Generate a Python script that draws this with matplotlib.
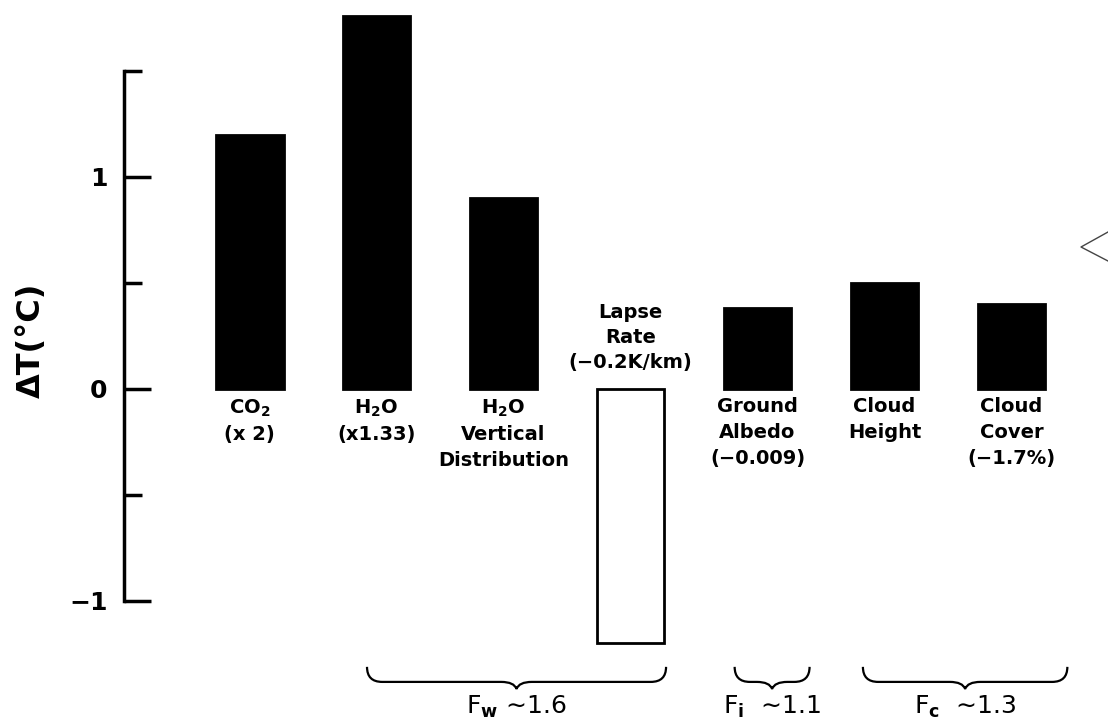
import numpy as np
import matplotlib
matplotlib.use("Agg")
import matplotlib.pyplot as plt
from matplotlib.path import Path
from matplotlib.patches import PathPatch
from matplotlib.lines import Line2D
from matplotlib.ticker import FixedLocator

# ---------------- data ----------------
categories = ["CO$_2$\n(x 2)", "H$_2$O\n(x1.33)", "H$_2$O\nVertical\nDistribution",
              "Lapse\nRate\n(\u22120.2K/km)", "Ground\nAlbedo\n(\u22120.009)",
              "Cloud\nHeight", "Cloud\nCover\n(\u22121.7%)"]
values = [1.2, 1.76, 0.9, -1.2, 0.38, 0.5, 0.4]
major_ticks = [-1, 0, 1]
minor_ticks = [-0.5, 0.5, 1.5]
group_labels = ["F$_{w}$ \u223c1.6", "F$_{i}$  \u223c1.1", "F$_{c}$  \u223c1.3"]

# ---------------- style ----------------
plt.rcParams['font.family'] = ['DejaVu Sans']
plt.rcParams['mathtext.fontset'] = 'custom'
plt.rcParams['mathtext.rm'] = 'DejaVu Sans:bold'
plt.rcParams['mathtext.it'] = 'DejaVu Sans:bold'
plt.rcParams['mathtext.bf'] = 'DejaVu Sans:bold'
plt.rcParams['mathtext.default'] = 'rm'

fig = plt.figure(figsize=(11.08, 7.26), dpi=100)
ax = fig.add_axes([0, 0, 1, 1])
ax.set_xlim(-1.965, 6.760)
ax.set_ylim(-1.590, 1.835)
ax.patch.set_alpha(0)

x = np.arange(len(values))
fills = ['black' if v > 0 else 'white' for v in values]
ax.bar(x, values, width=0.535, color=fills, edgecolor='black', linewidth=2.0, zorder=2)

for i, (lab, v) in enumerate(zip(categories, values)):
    if v >= 0:
        ax.text(i, -0.04, lab, ha='center', va='top', fontsize=14,
                fontweight='bold', linespacing=1.45, multialignment='center')
    else:
        ax.text(i, 0.08, lab, ha='center', va='bottom', fontsize=14,
                fontweight='bold', linespacing=1.4, multialignment='center')

# axis
for s in ['top', 'right', 'bottom']:
    ax.spines[s].set_visible(False)
ax.spines['left'].set_position(('data', -0.988))
ax.spines['left'].set_bounds(-1, 1.5)
ax.spines['left'].set_linewidth(2.5)
ax.yaxis.set_major_locator(FixedLocator(major_ticks))
ax.yaxis.set_minor_locator(FixedLocator(minor_ticks))
ax.tick_params(axis='y', which='major', direction='in', length=19.5, width=2.5,
               labelsize=18, pad=12)
ax.tick_params(axis='y', which='minor', direction='in', length=13, width=2.5)
for t in ax.get_yticklabels():
    t.set_fontweight('bold')
ax.set_xticks([])

fig.text(31 / 1108, 1 - 340 / 726, "\u0394T(\u00b0C)", rotation=90, ha='center',
         va='center', fontsize=23, fontweight='bold')

# braces (layout spans in category units)
brace_spans = [(0.925, 3.28), (3.82, 4.41), (4.83, 6.44)]
y_end, y_flat, y_tip = -1.311, -1.382, -1.415
r = 0.12


def brace(x0, x1):
    xc = 0.5 * (x0 + x1)
    verts = [(x0, y_end), (x0, y_flat), (x0 + r, y_flat),
             (xc - r, y_flat), (xc - 0.02, y_flat), (xc, y_tip),
             (xc + 0.02, y_flat), (xc + r, y_flat),
             (x1 - r, y_flat), (x1, y_flat), (x1, y_end)]
    codes = [Path.MOVETO, Path.CURVE3, Path.CURVE3,
             Path.LINETO, Path.CURVE3, Path.CURVE3,
             Path.CURVE3, Path.CURVE3,
             Path.LINETO, Path.CURVE3, Path.CURVE3]
    ax.add_patch(PathPatch(Path(verts, codes), fill=False, lw=1.6, color='black'))
    return xc


for (x0, x1), lab in zip(brace_spans, group_labels):
    xc = brace(x0, x1)
    ax.text(xc, -1.50, lab, ha='center', va='center', fontsize=18)

# small scan mark at the right edge
fig.add_artist(Line2D([1.0, 1081 / 1108, 1.0], [1 - 232 / 726, 1 - 247 / 726, 1 - 261 / 726],
                      transform=fig.transFigure, color='#444444', lw=1.0))

fig.savefig("out.png", dpi=100)
